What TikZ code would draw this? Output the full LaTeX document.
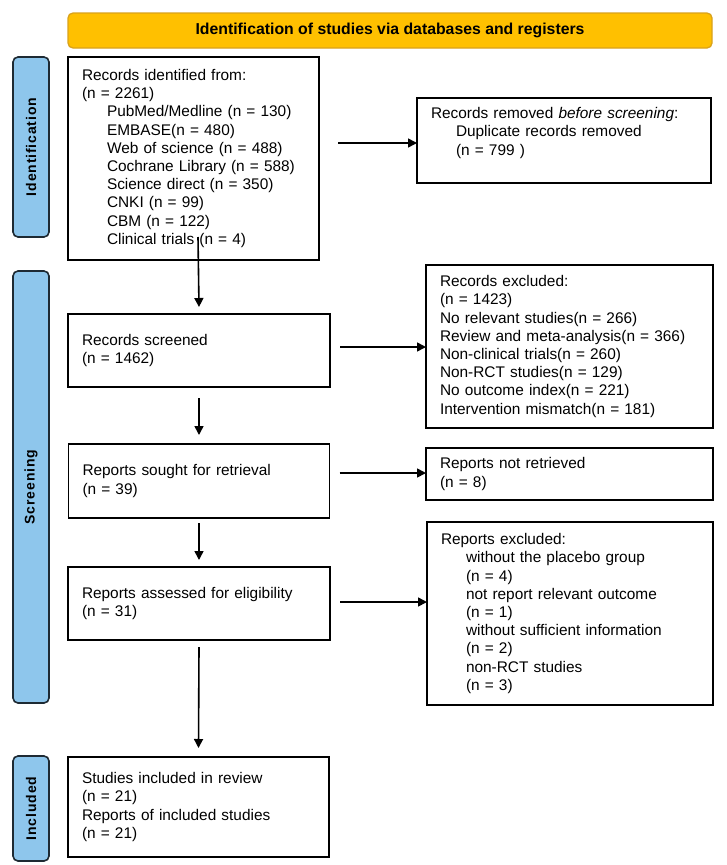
\documentclass[tikz,border=0pt]{standalone}
\usepackage{fontspec}
\setmainfont{Liberation Sans}
\usetikzlibrary{arrows.meta}
\definecolor{bannerfill}{HTML}{FFC000}
\definecolor{bannerdraw}{HTML}{D9A21B}
\definecolor{sidefill}{HTML}{8EC6EC}
\definecolor{sidedraw}{HTML}{1E2A33}
\begin{document}
\begin{tikzpicture}[x=1pt,y=-1pt,
  box/.style={draw=black, line width=1.6pt, rectangle, inner xsep=14pt, inner ysep=0pt,
    align=left, font=\fontsize{15.4}{18.2}\selectfont, outer sep=0pt},
  sidebar/.style={draw=sidedraw, fill=sidefill, line width=1.6pt, rounded corners=5pt,
    inner sep=0pt, outer sep=0pt},
  sidelabel/.style={rotate=90, font=\fontsize{14}{16}\selectfont\bfseries\addfontfeature{LetterSpace=6}},
  arr/.style={line width=1.6pt, -{Triangle[length=9pt,width=9pt]}}
]
\useasboundingbox (0,0) rectangle (726,865);
\newcommand{\ind}{\hspace*{25pt}}
% banner
\node[draw=bannerdraw, fill=bannerfill, line width=1.3pt, rounded corners=5pt,
  minimum width=644pt, minimum height=35pt, inner sep=0pt,
  font=\fontsize{15.8}{18}\selectfont\bfseries] (banner) at (390,30.5)
  {Identification of studies via databases and registers};
% side bars
\node[sidebar, minimum width=36pt, minimum height=180pt] (sideid) at (31,147) {};
\node[sidelabel] (sideidl) at (sideid.center) {Identification};
\node[sidebar, minimum width=36pt, minimum height=432pt] (sidesc) at (31,487) {};
\node[sidelabel] (sidescl) at (sidesc.center) {Screening};
\node[sidebar, minimum width=36pt, minimum height=105pt] (sidein) at (31,808.5) {};
\node[sidelabel] (sideinl) at (sidein.center) {Included};
% boxes
\node[box, minimum width=251pt, minimum height=203pt, text width=223pt] (ident) at (193.5,158.5)
  {Records identified from:\\
   (n = 2261)\\
   \ind PubMed/Medline (n = 130)\\
   \ind EMBASE(n = 480)\\
   \ind Web of science (n = 488)\\
   \ind Cochrane Library (n = 588)\\
   \ind Science direct (n = 350)\\
   \ind CNKI (n = 99)\\
   \ind CBM (n = 122)\\
   \ind Clinical trials (n = 4)};
\node[box, minimum width=294pt, minimum height=85pt, text width=266pt] (removed) at (564,140.5)
  {Records removed \textit{before screening}:\\
   \ind Duplicate records removed\\
   \ind (n = 799 )\\
   \mbox{}};
\node[box, minimum width=262pt, minimum height=73pt, text width=234pt] (screened) at (199,350.5)
  {Records screened\\(n = 1462)};
\node[box, minimum width=287pt, minimum height=163pt, text width=259pt] (excluded) at (569.5,346.5)
  {Records excluded:\\
   (n = 1423)\\
   No relevant studies(n = 266)\\
   Review and meta-analysis(n = 366)\\
   Non-clinical trials(n = 260)\\
   Non-RCT studies(n = 129)\\
   No outcome index(n = 221)\\
   Intervention mismatch(n = 181)};
\node[box, minimum width=261pt, minimum height=74pt, text width=233pt] (sought) at (199,481)
  {Reports sought for retrieval\\(n = 39)};
\node[box, minimum width=287pt, minimum height=52pt, text width=259pt] (notret) at (569.5,474)
  {Reports not retrieved\\(n = 8)};
\node[box, minimum width=262pt, minimum height=73pt, text width=234pt] (assessed) at (199,603.5)
  {Reports assessed for eligibility\\(n = 31)};
\node[box, minimum width=286pt, minimum height=183pt, text width=258pt] (repexcl) at (570,613.5)
  {Reports excluded:\\
   \ind without the placebo group\\
   \ind (n = 4)\\
   \ind not report relevant outcome\\
   \ind (n = 1)\\
   \ind without sufficient information\\
   \ind (n = 2)\\
   \ind non-RCT studies\\
   \ind (n = 3)};
\node[box, minimum width=261pt, minimum height=100pt, text width=233pt] (included) at (198.5,807)
  {Studies included in review\\
   (n = 21)\\
   Reports of included studies\\
   (n = 21)};
% vertical arrows
\draw[arr] ([xshift=4.5pt,yshift=23pt]ident.south) -- ([yshift=7pt]screened.north);
\draw[arr] ([yshift=-11pt]screened.south) -- ([yshift=9pt]sought.north);
\draw[arr] ([yshift=-5pt]sought.south) -- ([yshift=7pt]assessed.north);
\draw[arr] ([yshift=-7pt]assessed.south) -- ([yshift=9pt]included.north);
% horizontal arrows
\coordinate (h1) at ([xshift=19pt,yshift=15.5pt]ident.east);
\draw[arr] (h1) -- (h1 -| removed.west);
\coordinate (h2) at ([xshift=10pt,yshift=3.5pt]screened.east);
\draw[arr] (h2) -- (h2 -| excluded.west);
\coordinate (h3) at ([xshift=10pt,yshift=8pt]sought.east);
\draw[arr] (h3) -- (h3 -| notret.west);
\coordinate (h4) at ([xshift=10pt,yshift=1.5pt]assessed.east);
\draw[arr] (h4) -- (h4 -| repexcl.west);
\end{tikzpicture}
\end{document}
